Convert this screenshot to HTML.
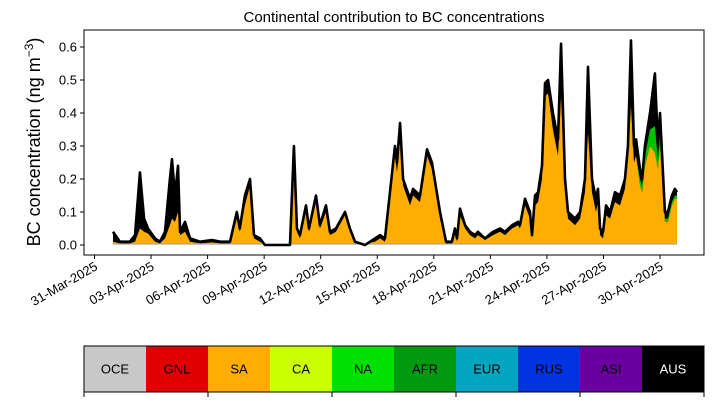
<!DOCTYPE html>
<html><head><meta charset="utf-8"><style>
body{margin:0;background:#fff;}
svg{display:block;font-family:"Liberation Sans","DejaVu Sans",sans-serif;}
</style></head><body>
<svg id="chart" width="714" height="402" viewBox="0 0 714 402">
<text x="394" y="22" font-size="15" text-anchor="middle">Continental contribution to BC concentrations</text>
<text transform="translate(40,142) rotate(-90)" font-size="18" text-anchor="middle">BC concentration (ng m<tspan dy="-7" font-size="12">−3</tspan><tspan dy="7">)</tspan></text>
<g id="plot"></g>
<g id="axes"></g>
<g id="cbar"></g>
</svg>
<script>
const days=[0.98,1.35,1.88,2.15,2.41,2.63,2.84,3.21,3.47,3.74,4.0,4.11,4.27,4.43,4.54,4.8,5.07,5.6,6.23,6.66,7.19,7.55,7.71,7.98,8.25,8.46,8.78,9.04,10.37,10.58,10.74,10.9,11.22,11.38,11.75,11.96,12.28,12.49,12.81,13.29,13.55,13.82,14.35,14.88,15.15,15.41,15.94,16.05,16.21,16.37,16.74,16.9,17.27,17.64,17.9,18.33,18.65,18.96,19.12,19.23,19.39,19.66,19.92,20.19,20.34,20.72,21.14,21.51,21.78,22.15,22.47,22.57,22.84,23.1,23.21,23.37,23.53,23.74,23.9,24.06,24.32,24.59,24.75,24.96,25.12,25.49,25.76,26.02,26.18,26.39,26.6,26.71,26.82,26.98,27.14,27.35,27.61,27.88,28.14,28.3,28.46,28.62,28.73,28.94,29.05,29.2,29.47,29.73,29.89,30.0,30.26,30.42,30.63,30.79,30.9];
const total=[0.04,0.01,0.01,0.03,0.22,0.08,0.05,0.02,0.01,0.04,0.2,0.26,0.15,0.24,0.04,0.07,0.02,0.01,0.015,0.01,0.01,0.1,0.05,0.15,0.2,0.03,0.02,0.0,0.0,0.3,0.05,0.03,0.12,0.05,0.15,0.06,0.12,0.04,0.05,0.1,0.05,0.01,0.0,0.02,0.03,0.02,0.3,0.25,0.37,0.2,0.14,0.17,0.15,0.29,0.25,0.1,0.01,0.01,0.05,0.02,0.11,0.06,0.04,0.03,0.04,0.02,0.04,0.05,0.04,0.06,0.07,0.06,0.14,0.1,0.03,0.15,0.16,0.24,0.49,0.5,0.4,0.32,0.61,0.2,0.1,0.08,0.1,0.2,0.54,0.2,0.14,0.17,0.05,0.04,0.12,0.1,0.16,0.15,0.2,0.3,0.62,0.3,0.32,0.23,0.2,0.3,0.4,0.52,0.3,0.4,0.1,0.1,0.15,0.17,0.16];
const sa=[0.01,0.005,0.005,0.01,0.05,0.04,0.035,0.01,0.005,0.02,0.06,0.08,0.07,0.1,0.03,0.04,0.01,0.005,0.008,0.005,0.005,0.08,0.04,0.12,0.18,0.02,0.01,0.0,0.0,0.26,0.04,0.02,0.1,0.04,0.13,0.05,0.1,0.03,0.04,0.09,0.04,0.005,0.0,0.01,0.02,0.01,0.27,0.22,0.32,0.18,0.12,0.15,0.13,0.27,0.23,0.08,0.005,0.005,0.04,0.01,0.09,0.05,0.03,0.02,0.03,0.015,0.03,0.04,0.03,0.05,0.06,0.05,0.12,0.08,0.02,0.12,0.13,0.2,0.45,0.46,0.35,0.27,0.45,0.16,0.08,0.06,0.08,0.16,0.34,0.16,0.1,0.13,0.03,0.02,0.09,0.08,0.13,0.12,0.17,0.26,0.42,0.25,0.27,0.18,0.16,0.24,0.3,0.28,0.23,0.3,0.07,0.07,0.12,0.14,0.14];
const na=[0,0,0,0,0,0,0,0,0,0,0,0,0,0,0,0,0,0,0,0,0,0,0,0,0,0,0,0,0,0,0,0,0,0,0,0,0,0,0,0,0,0,0,0,0,0,0,0,0,0,0,0,0,0,0,0,0,0,0,0,0,0,0,0,0,0,0,0,0,0,0,0,0,0,0,0,0,0,0,0,0,0,0,0,0,0,0,0,0,0,0,0,0,0,0,0,0,0,0,0,0,0,0,0.02,0.02,0.03,0.05,0.08,0.03,0.05,0.01,0.01,0.01,0.01,0.01];
const yTicks=[0.0,0.1,0.2,0.3,0.4,0.5,0.6];
const xTickDays=[0,3,6,9,12,15,18,21,24,27,30];
const xTickLabels=["31-Mar-2025","03-Apr-2025","06-Apr-2025","09-Apr-2025","12-Apr-2025","15-Apr-2025","18-Apr-2025","21-Apr-2025","24-Apr-2025","27-Apr-2025","30-Apr-2025"];
const regions=["OCE","GNL","SA","CA","NA","AFR","EUR","RUS","ASI","AUS"];
const regionColors=["#c8c8c8","#e00000","#ffad00","#ccff00","#00e000","#009a10","#00a5c0","#0034e0","#6a00a0","#000000"];

const NS="http://www.w3.org/2000/svg";
const L=84,R=704,T=30,B=255;
const X=d=>94.5+18.85*d;
const Y=v=>245-330*v;
function mk(tag,attrs,parent){const e=document.createElementNS(NS,tag);for(const k in attrs)e.setAttribute(k,attrs[k]);parent.appendChild(e);return e;}
function area(top,bot){let p=days.map((d,i)=>X(d)+","+Y(top[i]));for(let i=days.length-1;i>=0;i--)p.push(X(days[i])+","+Y(bot[i]));return p.join(" ");}
function line(vals){return days.map((d,i)=>X(d)+","+Y(vals[i])).join(" ");}
const plot=document.getElementById('plot');
const zero=days.map(()=>0);
const oce=days.map(()=>0.004);
const saTop=sa.map((v,i)=>Math.max(v,0.004));
const naTop=saTop.map((v,i)=>v+na[i]);
let e;
e=mk('polygon',{points:area(total,zero),fill:'#000'},plot);

e=mk('polygon',{points:area(naTop,saTop),fill:'#00c000'},plot);

e=mk('polygon',{points:area(saTop,oce),fill:'#ffad00'},plot);

e=mk('polygon',{points:area(oce,zero),fill:'#c8c8c8'},plot);

e=mk('polyline',{points:line(total),fill:'none',stroke:'#000','stroke-width':2.6,'stroke-linejoin':'round'},plot);

const ax=document.getElementById('axes');
e=mk('rect',{x:L,y:T,width:R-L,height:B-T,fill:'none',stroke:'#000','stroke-width':1},ax);

yTicks.forEach(v=>{mk('line',{x1:L-4,x2:L,y1:Y(v),y2:Y(v),stroke:'#000'},ax);
 const t=mk('text',{x:L-7,y:Y(v)+4.5,'font-size':13,'text-anchor':'end'},ax);t.textContent=v.toFixed(1);
 });
xTickDays.forEach((d,i)=>{mk('line',{x1:X(d),x2:X(d),y1:B,y2:B+4,stroke:'#000'},ax);
 const t=mk('text',{transform:`translate(${X(d)+4},${B+14}) rotate(-30)`,'font-size':13,'text-anchor':'end'},ax);t.textContent=xTickLabels[i];
 });
const cb=document.getElementById('cbar');
const cw=(R-L)/regions.length;
regions.forEach((r,i)=>{const c=mk('rect',{x:L+i*cw,y:346,width:cw,height:46,fill:regionColors[i]},cb);
 
 const t=mk('text',{x:L+i*cw+cw/2,y:373.5,'font-size':13,'text-anchor':'middle',fill:r==='AUS'?'#fff':'#000'},cb);t.textContent=r;
 });
e=mk('rect',{x:L,y:346,width:R-L,height:46,fill:'none',stroke:'#000'},cb);

[0,2,4,6,8,10].forEach(k=>mk('line',{x1:L+k*cw,x2:L+k*cw,y1:392,y2:397,stroke:'#000'},cb));
</script>
</body></html>
